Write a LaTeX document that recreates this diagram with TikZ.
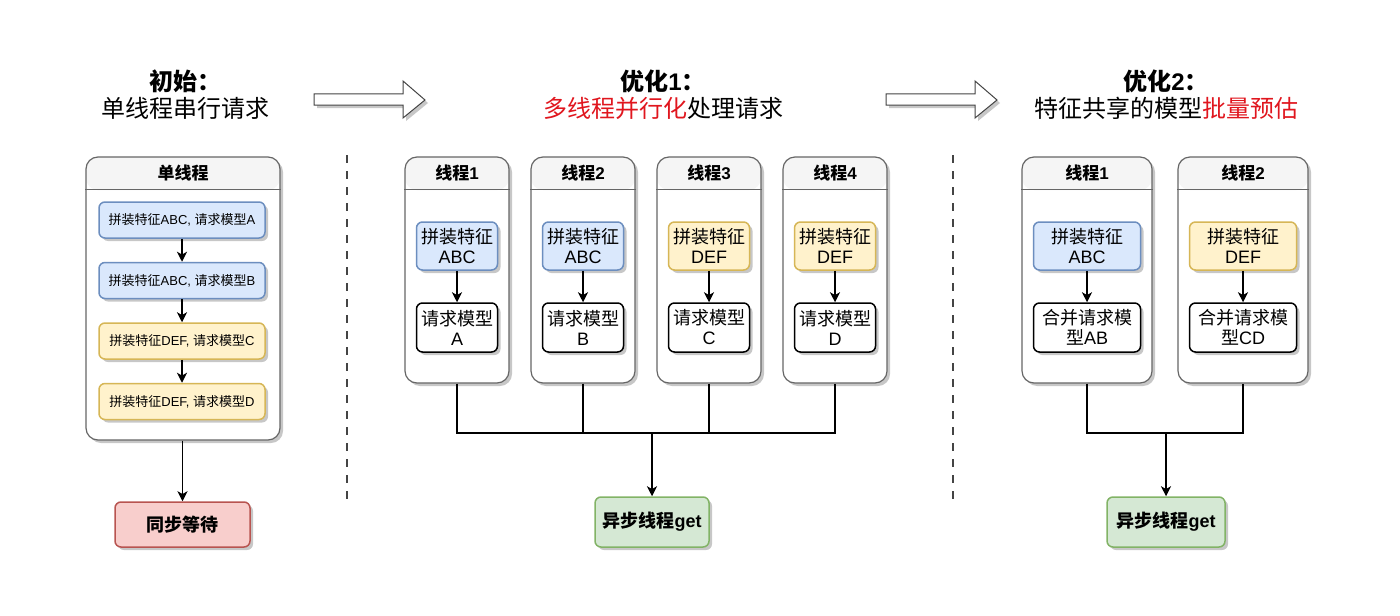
\documentclass[tikz,border=0pt]{standalone}
\usepackage{fontspec}
\setmainfont{Noto Sans CJK SC}
\newfontfamily\lat{Liberation Sans}
\usetikzlibrary{arrows.meta, positioning, shadows}
\definecolor{bluefill}{HTML}{DAE8FC}
\definecolor{blueline}{HTML}{6C8EBF}
\definecolor{yellowfill}{HTML}{FFF2CC}
\definecolor{yellowline}{HTML}{D6B656}
\definecolor{redfill}{HTML}{F8CECC}
\definecolor{redline}{HTML}{B85450}
\definecolor{greenfill}{HTML}{D5E8D4}
\definecolor{greenline}{HTML}{82B366}
\definecolor{clane}{HTML}{666666}
\definecolor{chead}{HTML}{F5F5F5}
\definecolor{ctitle}{HTML}{E0161E}
\definecolor{cgrey}{HTML}{444444}
\tikzset{
  every picture/.style={line width=0.75pt},
  shade/.style={drop shadow={shadow xshift=1.5pt, shadow yshift=-1.5pt, fill=black, opacity=0.22}},
  lane/.style={draw=clane, fill=white, line width=0.6pt, rounded corners=6pt, inner sep=0pt, shade,
    path picture={\fill[chead] (path picture bounding box.north west) rectangle ([yshift=-16.5pt]path picture bounding box.north east);}},
  lanehead/.style={font=\bfseries\fontsize{8.5}{10}\selectfont, inner sep=0pt},
  box/.style={draw=#1line, fill=#1fill, rounded corners=3pt, align=center, inner sep=0pt, shade},
  model/.style={draw=black, fill=white, rounded corners=3pt, align=center, inner sep=0pt, shade,
    font=\fontsize{9}{10}\selectfont},
  flow/.style={-{Stealth[length=5pt, width=5pt, inset=1.4pt]}, draw=black},
  wire/.style={draw=black},
  sep/.style={draw=cgrey, line width=1.1pt, dash pattern=on 4pt off 4pt},
  hollow/.style={draw=cgrey, fill=white, line width=0.5pt, shade},
  title/.style={font=\fontsize{12}{13.5}\selectfont, align=center, inner sep=0pt},
}

\begin{document}
\begin{tikzpicture}[x=0.5pt, y=-0.5pt]
  \useasboundingbox (0,0) rectangle (1400,615);
  % ---------- titles and hollow arrows
  \node[title] (t0) at (185,94.5) {\textbf{初始：}\\单线程串行请求};
  \node[title] (t1) at (663,95) {\textbf{优化{\lat 1}：}\\\textcolor{ctitle}{多线程并行化}处理请求};
  \node[title] (t2) at (1166,95) {\textbf{优化{\lat 2}：}\\特征共享的模型\textcolor{ctitle}{批量预估}};
  \foreach \ax in {0,572}
    \draw[hollow, xshift=\ax*0.5pt] (314,94) -- (403,94) -- (403,81) -- (425,100) -- (403,118) -- (403,105) -- (314,105) -- cycle;
  \draw[sep] (347,155) -- (347,505);
  \draw[sep] (953,155) -- (953,505);

  % ---------- single thread panel
  \node[lane, minimum width=97pt, minimum height=141.5pt] (lane0) at (183,298.5) {};
  \draw[clane, line width=0.6pt] ([yshift=-16.5pt]lane0.north west) -- ([yshift=-16.5pt]lane0.north east);
  \node[lanehead] (h0) at ([yshift=-8.25pt]lane0.north) {单线程};
  \foreach \i/\y/\c/\f/\m in {1/220/blue/ABC/A, 2/280.5/blue/ABC/B, 3/341/yellow/DEF/C, 4/401.5/yellow/DEF/D}
    \node[box=\c, minimum width=83pt, minimum height=18pt, font=\fontsize{6.5}{8}\selectfont] (s\i) at (182,\y) {拼装特征{\lat\f, }请求模型{\lat\m}};
  \foreach \i/\j in {1/2, 2/3, 3/4} \draw[flow] (s\i) -- (s\j);
  \node[box=red, minimum width=67.5pt, minimum height=22.5pt, font=\bfseries\fontsize{9}{10}\selectfont] (wait) at (182.5,524.5) {同步等待};
  \draw[flow] (lane0.south -| wait) -- (wait);

  % ---------- four threads panel
  \foreach \i/\x/\c/\f/\m in {1/457/blue/ABC/A, 2/583/blue/ABC/B, 3/709/yellow/DEF/C, 4/835/yellow/DEF/D} {
    \node[lane, minimum width=52pt, minimum height=113pt] (lane\i) at (\x,270) {};
    \draw[clane, line width=0.6pt] ([yshift=-16.5pt]lane\i.north west) -- ([yshift=-16.5pt]lane\i.north east);
    \node[lanehead] (h\i) at ([yshift=-8.25pt]lane\i.north) {线程{\lat\i}};
    \node[box=\c, minimum width=40.5pt, minimum height=24pt, font=\fontsize{9}{10}\selectfont] (f\i) at (\x,246) {拼装特征\\{\lat\f}};
    \node[model, minimum width=40.5pt, minimum height=24.5pt] (m\i) at (\x,327.5) {请求模型\\{\lat\m}};
    \draw[flow] (f\i) -- (m\i);
  }
  \coordinate (bus) at (652,433);
  \draw[wire] (lane1.south) -- (lane1.south |- bus) -- (lane4.south |- bus) -- (lane4.south);
  \foreach \i in {2,3} \draw[wire] (lane\i.south) -- (lane\i.south |- bus);
  \node[box=green, minimum width=57pt, minimum height=25pt, font=\bfseries\fontsize{9}{10}\selectfont] (get1) at (652,522) {异步线程{\lat get}};
  \draw[flow] (bus) -- (get1);

  % ---------- batched panel
  \foreach \i/\x/\c/\f/\m in {5/1087/blue/ABC/AB, 6/1243/yellow/DEF/CD} {
    \node[lane, minimum width=65pt, minimum height=113pt] (lane\i) at (\x,270) {};
    \draw[clane, line width=0.6pt] ([yshift=-16.5pt]lane\i.north west) -- ([yshift=-16.5pt]lane\i.north east);
    \node[box=\c, minimum width=53.5pt, minimum height=24pt, font=\fontsize{9}{10}\selectfont] (f\i) at (\x,246) {拼装特征\\{\lat\f}};
    \node[model, minimum width=53.5pt, minimum height=24.5pt] (m\i) at (\x,327.5) {合并请求模\\型{\lat\m}};
    \draw[flow] (f\i) -- (m\i);
  }
  \node[lanehead] (h5) at ([yshift=-8.25pt]lane5.north) {线程{\lat 1}};
  \node[lanehead] (h6) at ([yshift=-8.25pt]lane6.north) {线程{\lat 2}};
  \coordinate (bus2) at (1166,433);
  \draw[wire] (lane5.south) -- (lane5.south |- bus2) -- (lane6.south |- bus2) -- (lane6.south);
  \node[box=green, minimum width=59pt, minimum height=25pt, font=\bfseries\fontsize{9}{10}\selectfont] (get2) at (1166,522) {异步线程{\lat get}};
  \draw[flow] (bus2) -- (get2);
\end{tikzpicture}
\end{document}
